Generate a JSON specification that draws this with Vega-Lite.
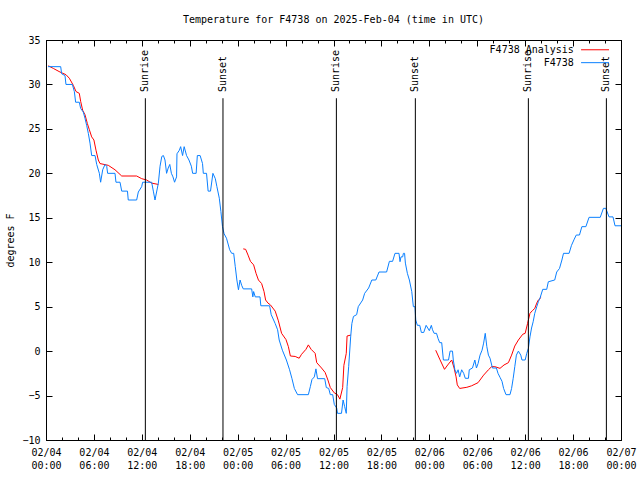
{
  "$schema": "https://vega.github.io/schema/vega-lite/v6.json",
  "width": 575,
  "height": 400,
  "autosize": {"type": "none"},
  "padding": {"left": 46, "top": 40, "right": 19, "bottom": 40},
  "background": "white",
  "title": {"text": "Temperature for F4738 on 2025-Feb-04 (time in UTC)", "font": "DejaVu Sans Mono", "fontSize": 10, "fontWeight": "normal", "color": "black", "anchor": "middle", "frame": "group", "baseline": "middle", "offset": 5},
  "config": {
    "view": {"stroke": "black", "strokeWidth": 1},
    "axis": {"labelFont": "DejaVu Sans Mono", "labelFontSize": 10, "labelColor": "black", "titleFont": "DejaVu Sans Mono", "titleFontSize": 10, "titleFontWeight": "normal", "titleColor": "black", "tickColor": "black", "domainColor": "black", "grid": false}
  },
  "datasets": {
    "obs": [
      {"h":0.25,"t":32},{"h":1.84,"t":32},{"h":1.96,"t":31.2},{"h":2.38,"t":31},{"h":2.5,"t":30},{"h":3.3,"t":30},{"h":3.55,"t":29.2},{"h":3.71,"t":28},{"h":4.17,"t":28},{"h":4.34,"t":27.3},{"h":4.67,"t":26.9},{"h":4.88,"t":26.2},{"h":5.09,"t":25.4},{"h":5.3,"t":24.5},{"h":5.51,"t":23.4},{"h":5.72,"t":22},{"h":6.14,"t":22},{"h":6.35,"t":21},{"h":6.68,"t":20},{"h":6.84,"t":19},{"h":7.1,"t":20.4},{"h":7.39,"t":21},{"h":7.6,"t":20.8},{"h":7.72,"t":20},{"h":8.64,"t":20},{"h":8.76,"t":19},{"h":9.27,"t":19},{"h":9.48,"t":18},{"h":10.2,"t":18},{"h":10.3,"t":17},{"h":11.35,"t":17},{"h":11.56,"t":17.9},{"h":11.98,"t":18.5},{"h":12.1,"t":19},{"h":13.23,"t":19},{"h":13.44,"t":18},{"h":13.65,"t":17},{"h":14.07,"t":18.9},{"h":14.28,"t":20.8},{"h":14.5,"t":21.9},{"h":14.7,"t":22},{"h":14.9,"t":21.5},{"h":15.1,"t":20},{"h":15.3,"t":20.6},{"h":15.5,"t":21},{"h":15.7,"t":20},{"h":15.9,"t":19.6},{"h":16.1,"t":19},{"h":16.35,"t":19.6},{"h":16.4,"t":22.2},{"h":16.7,"t":22.6},{"h":16.86,"t":23},{"h":17.1,"t":22},{"h":17.3,"t":23},{"h":17.6,"t":22},{"h":17.9,"t":21.5},{"h":18.2,"t":20.8},{"h":18.36,"t":20},{"h":18.8,"t":20},{"h":18.95,"t":22},{"h":19.3,"t":22},{"h":19.6,"t":21.1},{"h":19.7,"t":20},{"h":20.1,"t":20},{"h":20.3,"t":18},{"h":20.6,"t":18},{"h":20.9,"t":20},{"h":21.2,"t":19.4},{"h":21.4,"t":18.5},{"h":21.7,"t":17.2},{"h":21.9,"t":15.7},{"h":22.1,"t":14},{"h":22.3,"t":13.2},{"h":22.6,"t":12.7},{"h":23.0,"t":11.4},{"h":23.25,"t":11},{"h":23.5,"t":11},{"h":23.7,"t":9.5},{"h":23.9,"t":8},{"h":24.1,"t":6.9},{"h":24.3,"t":8},{"h":24.5,"t":7.4},{"h":24.7,"t":7},{"h":25.75,"t":7},{"h":25.9,"t":6.1},{"h":26.0,"t":6.7},{"h":26.2,"t":6.1},{"h":26.8,"t":6.1},{"h":26.9,"t":5.1},{"h":28.0,"t":5.1},{"h":28.2,"t":4.1},{"h":28.7,"t":3.1},{"h":29.0,"t":2.4},{"h":29.2,"t":1.25},{"h":29.6,"t":0.1},{"h":30.1,"t":-1},{"h":30.5,"t":-2.1},{"h":30.8,"t":-3.1},{"h":31.1,"t":-4.2},{"h":31.5,"t":-4.9},{"h":32.85,"t":-4.9},{"h":33.1,"t":-4},{"h":33.3,"t":-3.2},{"h":33.6,"t":-2.9},{"h":33.8,"t":-2},{"h":34.0,"t":-3.1},{"h":34.9,"t":-3.1},{"h":35.1,"t":-4.1},{"h":35.4,"t":-4.2},{"h":35.6,"t":-4.9},{"h":35.9,"t":-4.9},{"h":36.1,"t":-6},{"h":36.4,"t":-6.4},{"h":36.5,"t":-7},{"h":37.0,"t":-7},{"h":37.2,"t":-5.5},{"h":37.4,"t":-6.25},{"h":37.6,"t":-7},{"h":37.7,"t":-4},{"h":37.9,"t":-1.75},{"h":38.15,"t":1.6},{"h":38.3,"t":3.1},{"h":38.5,"t":3.9},{"h":38.9,"t":4.1},{"h":39.1,"t":5},{"h":39.65,"t":5.75},{"h":39.9,"t":6.5},{"h":40.4,"t":7.1},{"h":40.8,"t":8},{"h":41.3,"t":8},{"h":41.7,"t":8.9},{"h":42.65,"t":8.9},{"h":43.0,"t":10.1},{"h":43.4,"t":10.1},{"h":43.7,"t":11},{"h":44.2,"t":11},{"h":44.33,"t":10.06},{"h":44.45,"t":10.6},{"h":44.66,"t":10.6},{"h":44.75,"t":11},{"h":44.9,"t":11},{"h":45.0,"t":9.9},{"h":45.25,"t":8.75},{"h":45.5,"t":8},{"h":45.8,"t":6.7},{"h":46.0,"t":5},{"h":46.2,"t":5},{"h":46.3,"t":3.5},{"h":46.5,"t":2.9},{"h":46.8,"t":2.9},{"h":47.0,"t":2.1},{"h":47.3,"t":2.1},{"h":47.6,"t":2.9},{"h":47.8,"t":2.6},{"h":48.0,"t":2.3},{"h":48.25,"t":2.9},{"h":48.4,"t":2.4},{"h":48.6,"t":2},{"h":48.9,"t":2},{"h":49.1,"t":1.4},{"h":49.3,"t":0.95},{"h":49.55,"t":0.95},{"h":49.76,"t":-1},{"h":50.4,"t":-1},{"h":50.6,"t":0},{"h":50.9,"t":0},{"h":51.0,"t":-1},{"h":51.2,"t":-2.1},{"h":51.4,"t":-2.5},{"h":51.6,"t":-2.1},{"h":51.8,"t":-2.9},{"h":52.05,"t":-2.1},{"h":52.3,"t":-2.5},{"h":52.5,"t":-3.06},{"h":52.9,"t":-3.06},{"h":53.0,"t":-2.1},{"h":53.4,"t":-1.9},{"h":53.7,"t":-1},{"h":53.9,"t":-1.9},{"h":54.1,"t":-1.4},{"h":54.35,"t":-0.45},{"h":54.6,"t":0.1},{"h":54.8,"t":0.9},{"h":55.0,"t":2},{"h":55.2,"t":0.5},{"h":55.4,"t":-0.45},{"h":55.6,"t":-0.8},{"h":55.9,"t":-1.9},{"h":56.4,"t":-1.9},{"h":56.6,"t":-2.5},{"h":56.85,"t":-2.95},{"h":57.1,"t":-3.4},{"h":57.3,"t":-4.2},{"h":57.6,"t":-4.9},{"h":58.1,"t":-4.9},{"h":58.3,"t":-4.2},{"h":58.5,"t":-3.06},{"h":58.7,"t":-1.75},{"h":58.9,"t":-0.45},{"h":59.15,"t":0},{"h":59.45,"t":-0.45},{"h":59.6,"t":-1},{"h":60.0,"t":-1},{"h":60.2,"t":-0.25},{"h":60.4,"t":0.3},{"h":60.6,"t":1.6},{"h":60.8,"t":2.6},{"h":61.0,"t":3.3},{"h":61.2,"t":4.25},{"h":61.45,"t":5},{"h":61.65,"t":5.56},{"h":61.85,"t":5.94},{"h":62.2,"t":6.95},{"h":62.7,"t":6.95},{"h":62.9,"t":7.8},{"h":63.7,"t":8},{"h":63.95,"t":8.9},{"h":64.3,"t":9.3},{"h":64.6,"t":10.25},{"h":64.8,"t":11},{"h":65.5,"t":11},{"h":65.8,"t":11.9},{"h":66.15,"t":12.6},{"h":66.4,"t":13.06},{"h":66.8,"t":13.06},{"h":67.1,"t":14},{"h":67.6,"t":14},{"h":68.0,"t":15.05},{"h":69.4,"t":15.05},{"h":69.8,"t":16.06},{"h":70.1,"t":16.06},{"h":70.5,"t":15.1},{"h":71.0,"t":15.1},{"h":71.25,"t":14.1},{"h":72.0,"t":14.1}
    ],
    "ana": [
      {"seg":1,"h":0.29,"t":32.1},{"seg":1,"h":0.92,"t":31.8},{"seg":1,"h":1.75,"t":31.4},{"seg":1,"h":2.5,"t":31.1},{"seg":1,"h":2.92,"t":30.7},{"seg":1,"h":3.42,"t":29.9},{"seg":1,"h":3.76,"t":29.2},{"seg":1,"h":4.17,"t":29},{"seg":1,"h":4.34,"t":28.1},{"seg":1,"h":4.59,"t":27.1},{"seg":1,"h":4.88,"t":26.6},{"seg":1,"h":5.18,"t":25.6},{"seg":1,"h":5.43,"t":24.9},{"seg":1,"h":5.72,"t":24.1},{"seg":1,"h":6.0,"t":23.75},{"seg":1,"h":6.26,"t":22.6},{"seg":1,"h":6.55,"t":21.5},{"seg":1,"h":6.76,"t":21.1},{"seg":1,"h":7.8,"t":20.9},{"seg":1,"h":8.64,"t":20.4},{"seg":1,"h":9.48,"t":19.7},{"seg":1,"h":11.35,"t":19.7},{"seg":1,"h":11.98,"t":19.4},{"seg":1,"h":12.6,"t":19.25},{"seg":1,"h":13.23,"t":18.9},{"seg":1,"h":14.07,"t":18.75},
      {"seg":2,"h":24.7,"t":11.5},{"seg":2,"h":25.0,"t":11.45},{"seg":2,"h":25.3,"t":10.8},{"seg":2,"h":25.6,"t":10.1},{"seg":2,"h":26.0,"t":9.7},{"seg":2,"h":26.3,"t":8.75},{"seg":2,"h":26.6,"t":8.0},{"seg":2,"h":27.0,"t":7.6},{"seg":2,"h":27.3,"t":6.7},{"seg":2,"h":27.5,"t":5.75},{"seg":2,"h":27.8,"t":5.4},{"seg":2,"h":28.1,"t":5.2},{"seg":2,"h":28.7,"t":4.5},{"seg":2,"h":29.1,"t":3.4},{"seg":2,"h":29.5,"t":2.0},{"seg":2,"h":30.05,"t":1.3},{"seg":2,"h":30.35,"t":0.5},{"seg":2,"h":30.6,"t":-0.55},{"seg":2,"h":31.2,"t":-0.6},{"seg":2,"h":31.7,"t":-0.8},{"seg":2,"h":32.0,"t":-0.36},{"seg":2,"h":32.55,"t":0.2},{"seg":2,"h":32.85,"t":0.7},{"seg":2,"h":33.2,"t":0.2},{"seg":2,"h":33.7,"t":-0.25},{"seg":2,"h":33.9,"t":-1.3},{"seg":2,"h":34.5,"t":-1.9},{"seg":2,"h":34.95,"t":-2.4},{"seg":2,"h":35.3,"t":-3.25},{"seg":2,"h":35.6,"t":-4.1},{"seg":2,"h":36.1,"t":-4.7},{"seg":2,"h":36.5,"t":-4.9},{"seg":2,"h":36.8,"t":-5.4},{"seg":2,"h":37.15,"t":-4.1},{"seg":2,"h":37.3,"t":-1.6},{"seg":2,"h":37.6,"t":-0.25},{"seg":2,"h":37.7,"t":1.7},{"seg":2,"h":38.15,"t":1.8},
      {"seg":3,"h":48.8,"t":0.1},{"seg":3,"h":49.3,"t":-0.9},{"seg":3,"h":49.9,"t":-2.05},{"seg":3,"h":50.3,"t":-1.56},{"seg":3,"h":50.8,"t":-1.0},{"seg":3,"h":51.1,"t":-1.9},{"seg":3,"h":51.35,"t":-2.9},{"seg":3,"h":51.5,"t":-3.8},{"seg":3,"h":51.8,"t":-4.2},{"seg":3,"h":52.7,"t":-4.07},{"seg":3,"h":53.3,"t":-3.9},{"seg":3,"h":54.1,"t":-3.55},{"seg":3,"h":54.8,"t":-2.7},{"seg":3,"h":55.4,"t":-2.1},{"seg":3,"h":55.8,"t":-1.75},{"seg":3,"h":56.2,"t":-1.75},{"seg":3,"h":56.85,"t":-1.94},{"seg":3,"h":57.35,"t":-1.56},{"seg":3,"h":57.9,"t":-1.3},{"seg":3,"h":58.3,"t":-0.45},{"seg":3,"h":58.7,"t":0.57},{"seg":3,"h":59.15,"t":1.25},{"seg":3,"h":59.7,"t":1.9},{"seg":3,"h":60.0,"t":2.0},{"seg":3,"h":60.3,"t":3.1},{"seg":3,"h":60.6,"t":4.25},{"seg":3,"h":60.9,"t":4.55},{"seg":3,"h":61.2,"t":4.8},{"seg":3,"h":61.45,"t":5.4},{"seg":3,"h":61.65,"t":5.75},{"seg":3,"h":62.0,"t":6.05}
    ],
    "events": [
      {"h":12.44,"label":"Sunrise"},{"h":22.16,"label":"Sunset"},{"h":36.36,"label":"Sunrise"},{"h":46.25,"label":"Sunset"},{"h":60.4,"label":"Sunrise"},{"h":70.17,"label":"Sunset"}
    ]
  },
  "layer": [
    {
      "data": {"name": "ana"},
      "mark": {"type": "line", "stroke": "#ff0000", "strokeWidth": 1, "clip": true},
      "encoding": {
        "x": {"field": "h", "type": "quantitative", "scale": {"domain": [0, 72], "nice": false, "zero": false},
          "axis": {"orient": "bottom", "title": null, "values": [0,2,4,6,8,10,12,14,16,18,20,22,24,26,28,30,32,34,36,38,40,42,44,46,48,50,52,54,56,58,60,62,64,66,68,70,72],
            "labelExpr": "datum.value % 6 === 0 ? ['02/0' + (4 + floor(datum.value / 24)), (datum.value % 24 < 10 ? '0' : '') + (datum.value % 24) + ':00'] : ''",
            "labelAngle": 0, "labelFlush": false, "labelOverlap": false, "labelLineHeight": 13, "labelPadding": 13,
            "tickSize": {"condition": {"test": "datum.value % 6 === 0", "value": -6}, "value": -3}}},
        "y": {"field": "t", "type": "quantitative", "scale": {"domain": [-10, 35], "nice": false, "zero": false},
          "axis": {"orient": "left", "title": "degrees F", "values": [-10,-5,0,5,10,15,20,25,30,35], "tickSize": -6, "labelPadding": 12, "titlePadding": 6, "labelFlush": false, "labelOverlap": false}},
        "detail": {"field": "seg", "type": "nominal"}
      }
    },
    {
      "data": {"name": "obs"},
      "mark": {"type": "line", "stroke": "#0a80ff", "strokeWidth": 1, "clip": true},
      "encoding": {
        "x": {"field": "h", "type": "quantitative", "scale": {"domain": [0, 72], "nice": false, "zero": false},
          "axis": {"orient": "top", "title": null, "labels": false, "values": [0,2,4,6,8,10,12,14,16,18,20,22,24,26,28,30,32,34,36,38,40,42,44,46,48,50,52,54,56,58,60,62,64,66,68,70,72],
            "tickSize": {"condition": {"test": "datum.value % 6 === 0", "value": -6}, "value": -3}}},
        "y": {"field": "t", "type": "quantitative", "scale": {"domain": [-10, 35], "nice": false, "zero": false},
          "axis": {"orient": "right", "title": null, "labels": false, "values": [-10,-5,0,5,10,15,20,25,30,35], "tickSize": -6}}
      }
    },
    {
      "data": {"name": "events"},
      "mark": {"type": "rule", "color": "black", "strokeWidth": 1},
      "encoding": {
        "x": {"field": "h", "type": "quantitative", "axis": null},
        "y": {"datum": -10, "type": "quantitative", "axis": null},
        "y2": {"datum": 28.45}
      }
    },
    {
      "data": {"name": "events"},
      "mark": {"type": "text", "angle": 270, "align": "left", "baseline": "middle", "font": "DejaVu Sans Mono", "fontSize": 10, "color": "black"},
      "encoding": {
        "x": {"field": "h", "type": "quantitative", "axis": null},
        "y": {"datum": 29.15, "type": "quantitative", "axis": null},
        "text": {"field": "label"}
      }
    },
    {
      "data": {"values": [{"name": "F4738 Analysis"}]},
      "mark": {"type": "text", "align": "right", "baseline": "middle", "font": "DejaVu Sans Mono", "fontSize": 10, "color": "black"},
      "encoding": {"x": {"datum": 66.1, "type": "quantitative", "axis": null}, "y": {"datum": 33.9, "type": "quantitative", "axis": null}, "text": {"field": "name"}}
    },
    {
      "data": {"values": [{"name": "F4738"}]},
      "mark": {"type": "text", "align": "right", "baseline": "middle", "font": "DejaVu Sans Mono", "fontSize": 10, "color": "black"},
      "encoding": {"x": {"datum": 66.1, "type": "quantitative", "axis": null}, "y": {"datum": 32.45, "type": "quantitative", "axis": null}, "text": {"field": "name"}}
    },
    {
      "data": {"values": [{"name": "F4738 Analysis"}]},
      "mark": {"type": "rule", "color": "#ff0000", "strokeWidth": 1},
      "encoding": {"x": {"datum": 67.0, "type": "quantitative", "axis": null}, "x2": {"datum": 70.5}, "y": {"datum": 33.9, "type": "quantitative", "axis": null}}
    },
    {
      "data": {"values": [{"name": "F4738"}]},
      "mark": {"type": "rule", "color": "#0a80ff", "strokeWidth": 1},
      "encoding": {"x": {"datum": 67.0, "type": "quantitative", "axis": null}, "x2": {"datum": 70.5}, "y": {"datum": 32.45, "type": "quantitative", "axis": null}}
    }
  ],
  "resolve": {"axis": {"x": "independent", "y": "independent"}}
}
